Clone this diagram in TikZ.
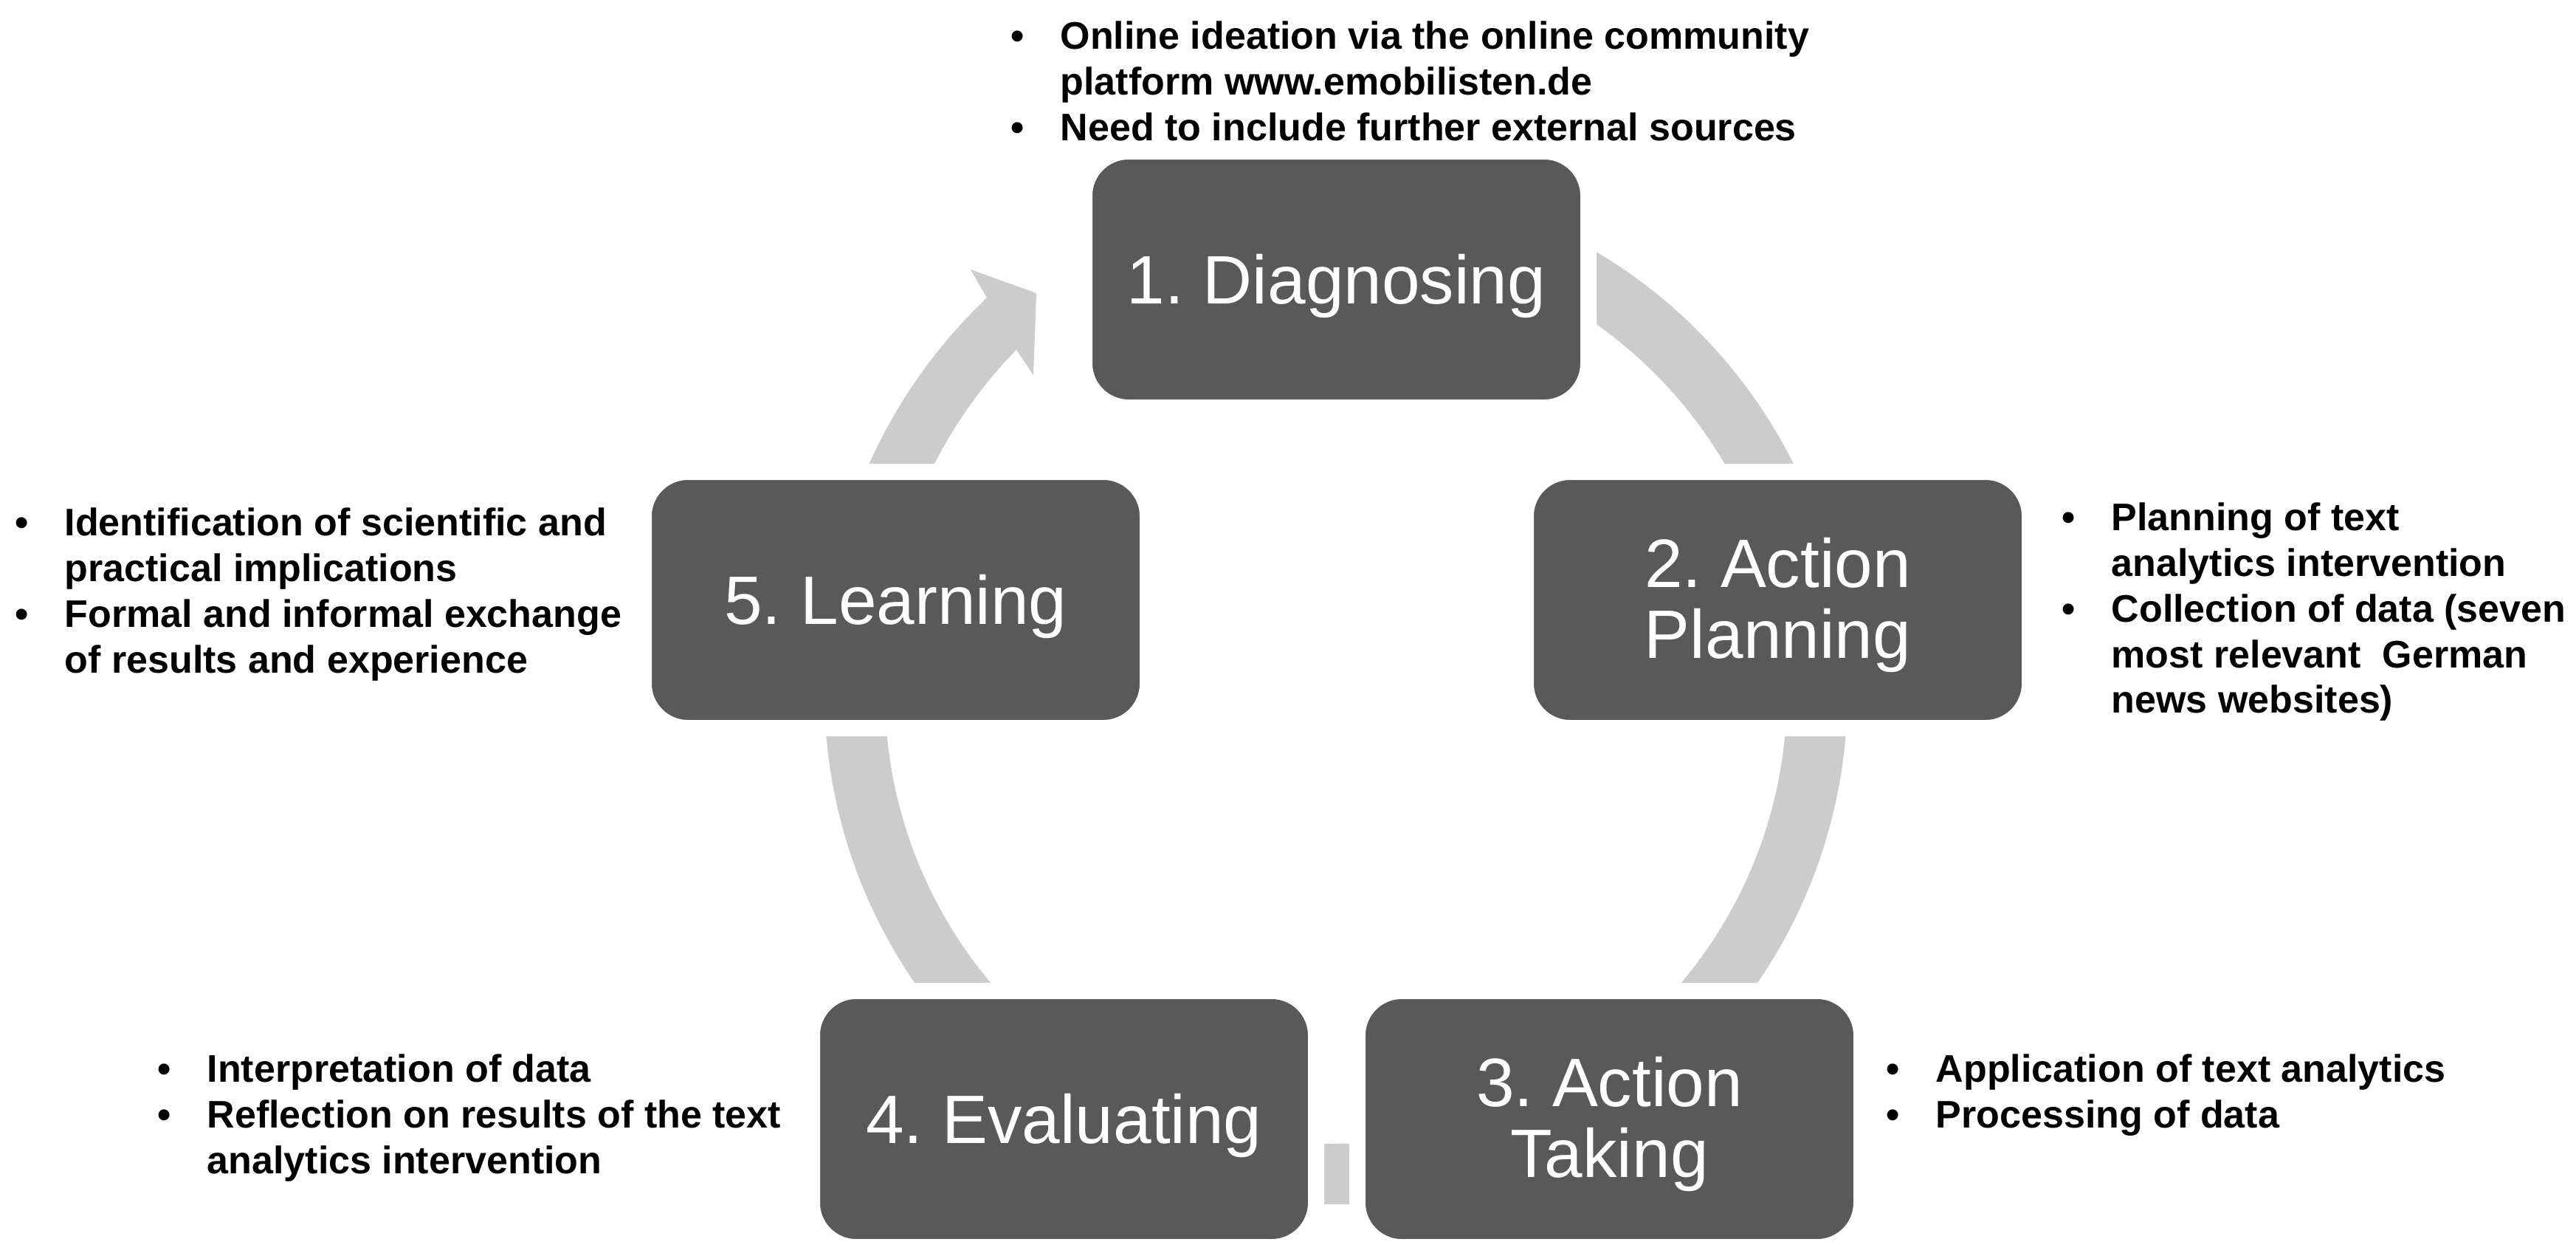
\documentclass[tikz,border=0pt]{standalone}
\usepackage{fontspec}
\setmainfont{Liberation Sans}
\definecolor{boxgray}{RGB}{89,89,89}
\definecolor{ringgray}{RGB}{204,204,204}
\newcommand\myboxfont{\fontsize{26.4}{27.3}\selectfont}
\newcommand\mybulletfont{\fontsize{14.8}{17.64}\selectfont\bfseries}
\newcommand\mybul{\makebox[0pt]{\textbullet}\hspace{0.58cm}}
\newcommand\mycont{\hspace{0.58cm}}
\frenchspacing
\begin{document}
\begin{tikzpicture}[
  box/.style={draw=white, line width=0.22cm, fill=boxgray, rounded corners=0.6cm,
    minimum width=6.83cm, minimum height=3.47cm, inner sep=0pt, text=white,
    align=center, font=\myboxfont, text height=0.86cm},
  box2/.style={box, text height=1.78cm},
  bullets/.style={inner sep=0pt, anchor=base west, font=\mybulletfont, text=black},
  ring/.style={fill=ringgray}]
\useasboundingbox (0,0) rectangle (34.9,-17);
\fill[white] (0,0) rectangle (34.9,-17);

% cycle ring with arrowhead
\coordinate (c) at (18.10,-9.38);
\fill[ring, shift={(c)}]
  (80:6.93) arc[start angle=80, end angle=-180, radius=6.93]
  -- plot[domain=-180:-228.5, samples=25] (\x:{6.93+0.21*(-180-(\x))/48.5})
  -- (-4.95,5.73) -- (-4.06,5.41) -- (-4.10,4.30)
  -- plot[domain=-227:-180, samples=25] (\x:{6.11+0.24*(-180-(\x))/47})
  -- (-180:6.11) arc[start angle=-180, end angle=80, radius=6.11] -- cycle;

% boxes
\node[box] (n1) at (18.105,-3.785) {1. Diagnosing};
\node[box2] (n2) at (24.085,-8.125) {2. Action\\Planning};
\node[box2] (n3) at (21.805,-15.155) {3. Action\\Taking};
\node[box] (n4) at (14.415,-15.155) {4. Evaluating};
\node[box] (n5) at (12.135,-8.125) {5. Learning};

% bullet texts
\node[bullets] (t1) at (13.78,-0.67) {\begin{tabular}[t]{@{}l@{}}
\mybul Online ideation via the online community\\
\mycont platform www.emobilisten.de\\
\mybul Need to include further external sources
\end{tabular}};
\node[bullets] (t2) at (28.02,-7.18) {\begin{tabular}[t]{@{}l@{}}
\mybul Planning of text\\
\mycont analytics intervention\\
\mybul Collection of data (seven\\
\mycont most relevant\ \ German\\
\mycont news websites)
\end{tabular}};
\node[bullets] (t3) at (25.64,-14.65) {\begin{tabular}[t]{@{}l@{}}
\mybul Application of text analytics\\
\mybul Processing of data
\end{tabular}};
\node[bullets] (t4) at (2.22,-14.65) {\begin{tabular}[t]{@{}l@{}}
\mybul Interpretation of data\\
\mybul Reflection on results of the text\\
\mycont analytics intervention
\end{tabular}};
\node[bullets] (t5) at (0.29,-7.25) {\begin{tabular}[t]{@{}l@{}}
\mybul Identification of scientific and\\
\mycont practical implications\\
\mybul Formal and informal exchange\\
\mycont of results and experience
\end{tabular}};
\end{tikzpicture}
\end{document}
